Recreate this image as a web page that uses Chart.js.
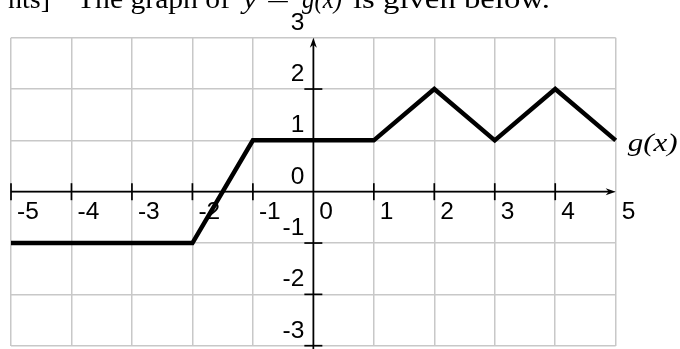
<!DOCTYPE html>
<html><head><meta charset="utf-8">
<script src="https://cdn.jsdelivr.net/npm/chart.js@4"></script>
<style>html,body{margin:0;padding:0;background:#fff;overflow:hidden}canvas{display:block}</style>
</head><body>
<canvas id="c" width="680" height="349" style="width:680px;height:349px"></canvas>
<script>
// ---- data ----
const xValues = [-5, -2, -1, 1, 2, 3, 4, 5];
const gValues = [-1, -1, 1, 1, 2, 1, 2, 1];
const xTickValues = [-5, -4, -3, -2, -1, 0, 1, 2, 3, 4, 5];
const xTickLabels = ['-5', '-4', '-3', '-2', '-1', '0', '1', '2', '3', '4', '5'];
const yTickValues = [3, 2, 1, 0, -1, -2, -3];
const yTickLabels = ['3', '2', '1', '0', '-1', '-2', '-3'];
const seriesLabel = 'g(x)';
const headingTexts = ['nts]', 'The graph of', 'y', '=', 'g(x)', 'is given below.'];

// ---- helpers ----
function drawArrow(ctx, tx, ty, dx, dy) {
  const px = -dy, py = dx;
  ctx.beginPath();
  ctx.moveTo(tx, ty);
  ctx.lineTo(tx - 10 * dx + 3.5 * px, ty - 10 * dy + 3.5 * py);
  ctx.lineTo(tx - 7 * dx, ty - 7 * dy);
  ctx.lineTo(tx - 10 * dx - 3.5 * px, ty - 10 * dy - 3.5 * py);
  ctx.closePath();
  ctx.fill();
}
function seg(ctx, x1, y1, x2, y2) {
  ctx.beginPath(); ctx.moveTo(x1, y1); ctx.lineTo(x2, y2); ctx.stroke();
}
function drawFit(ctx, text, x0, x1, base) {
  const w = ctx.measureText(text).width;
  ctx.save();
  ctx.translate(x0, base);
  ctx.scale((x1 - x0) / w, 1);
  ctx.textAlign = 'left';
  ctx.fillText(text, 0, 0);
  ctx.restore();
}

const axesPlugin = {
  id: 'mathAxes',
  beforeDatasetsDraw(chart) {
    const { ctx, chartArea: a, scales: { x, y } } = chart;
    const ax = x.getPixelForValue(0), ay = y.getPixelForValue(0);
    ctx.save();
    ctx.strokeStyle = '#000';
    ctx.fillStyle = '#000';
    ctx.lineWidth = 1.7;
    seg(ctx, a.left, ay, a.right - 5, ay);
    drawArrow(ctx, a.right, ay, 1, 0);
    seg(ctx, ax, chart.height, ax, a.top + 5);
    drawArrow(ctx, ax, a.top, 0, -1);
    xTickValues.forEach(v => {
      if (v === 0 || v === x.max) return;
      const px = x.getPixelForValue(v);
      seg(ctx, px, ay - 8.5, px, ay + 8.5);
    });
    yTickValues.forEach(v => {
      if (v === 0 || v === y.max) return;
      const py = y.getPixelForValue(v);
      seg(ctx, ax - 9, py, ax + 9, py);
    });
    ctx.font = '24.5px "Liberation Sans", Arial, sans-serif';
    ctx.textBaseline = 'alphabetic';
    ctx.textAlign = 'left';
    xTickValues.forEach((v, i) => ctx.fillText(xTickLabels[i], x.getPixelForValue(v) + 6, ay + 27));
    ctx.textAlign = 'right';
    yTickValues.forEach((v, i) => ctx.fillText(yTickLabels[i], ax - 9, y.getPixelForValue(v) - 8));
    ctx.restore();
  },
  afterDraw(chart) {
    const { ctx, chartArea: a, scales: { y } } = chart;
    ctx.save();
    ctx.fillStyle = '#000';
    ctx.textBaseline = 'alphabetic';
    // series label
    ctx.font = 'italic 26px "Liberation Serif", "Times New Roman", serif';
    const lastY = y.getPixelForValue(gValues[gValues.length - 1]);
    drawFit(ctx, seriesLabel, a.right + 12, a.right + 62, lastY + 10.5);
    // clipped heading line
    const base = 7.5;
    const up = '28px "Liberation Serif", "Times New Roman", serif';
    const it = 'italic 28px "Liberation Serif", "Times New Roman", serif';
    ctx.font = up;
    ctx.textAlign = 'right';
    ctx.fillText(headingTexts[0], 50, base);
    drawFit(ctx, headingTexts[1], 77, 230, base);
    ctx.font = it;
    drawFit(ctx, headingTexts[2], 243, 257, base);
    ctx.font = up;
    drawFit(ctx, headingTexts[3], 266, 290, base);
    ctx.font = it;
    drawFit(ctx, headingTexts[4], 302, 342, base);
    ctx.font = up;
    drawFit(ctx, headingTexts[5], 353, 550, base);
    ctx.restore();
  }
};

new Chart(document.getElementById('c'), {
  type: 'scatter',
  data: {
    datasets: [{
      label: seriesLabel,
      data: xValues.map((v, i) => ({ x: v, y: gValues[i] })),
      showLine: true,
      borderColor: '#000',
      backgroundColor: '#000',
      borderWidth: 4.5,
      borderJoinStyle: 'miter',
      borderCapStyle: 'butt',
      pointRadius: 0,
      pointHoverRadius: 0,
      tension: 0,
      clip: false
    }]
  },
  options: {
    responsive: false,
    animation: false,
    devicePixelRatio: 1,
    layout: { padding: { left: 11, right: 64.3, top: 37.7, bottom: 3.3 } },
    plugins: { legend: { display: false }, tooltip: { enabled: false } },
    events: [],
    scales: {
      x: {
        type: 'linear', min: xTickValues[0], max: xTickValues[xTickValues.length - 1],
        ticks: { display: false, stepSize: 1 },
        grid: { color: '#c8c8c8', lineWidth: 1.5, drawTicks: false },
        border: { display: false }
      },
      y: {
        type: 'linear', min: yTickValues[yTickValues.length - 1], max: yTickValues[0],
        ticks: { display: false, stepSize: 1 },
        grid: { color: '#c8c8c8', lineWidth: 1.5, drawTicks: false },
        border: { display: false }
      }
    }
  },
  plugins: [axesPlugin]
});
</script>
</body></html>
